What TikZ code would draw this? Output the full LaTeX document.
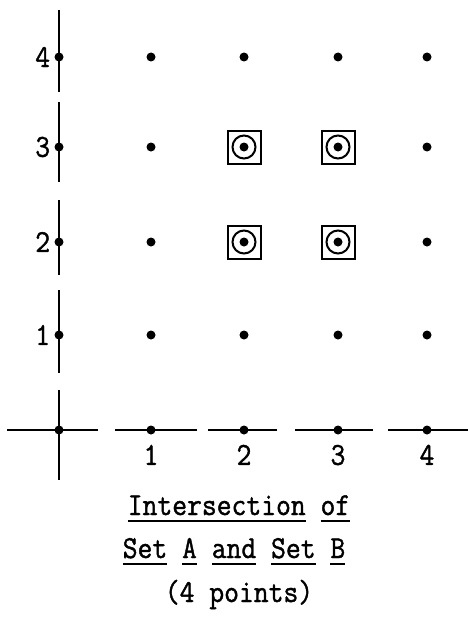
\documentclass[tikz,border=0pt]{standalone}
\usepackage{fontspec}
\usepackage{tikz}
\usetikzlibrary{positioning}
\newfontfamily\typefont[FakeBold=1.2, FakeStretch=0.9]{Latin Modern Mono}
\newcommand\wordline[1]{\setbox0\hbox{#1}\rlap{\rule[-7pt]{\wd0}{2.2pt}}\box0\relax}

\begin{document}
\begin{tikzpicture}[x=1pt, y=-1pt,
    dot/.style={circle, fill=black, inner sep=0pt, minimum size=9pt},
    boxmark/.style={rectangle, draw=black, line width=2pt, minimum size=33pt, inner sep=0pt},
    ringmark/.style={circle, draw=black, line width=2pt, minimum size=23pt, inner sep=0pt},
    axisline/.style={line width=2pt},
    numlabel/.style={font=\fontsize{32}{38}\typefont, inner sep=0pt},
    caption/.style={font=\fontsize{32}{38}\typefont, inner sep=0pt, anchor=base}
]
    \useasboundingbox (0,0) rectangle (468,618);

    % Axes (broken lines)
    \foreach \a/\b in {10/92, 102/182, 200/275, 290/373, 390/480}
        \draw[axisline] (59,\a) -- (59,\b);
    \foreach \a/\b in {7/98, 115/197, 208/277, 295/373, 388/468}
        \draw[axisline] (\a,430) -- (\b,430);

    % Origin and axis points
    \node[dot] (o) at (59,430) {};
    \foreach \c/\xx in {1/151, 2/244, 3/338, 4/427} {
        \node[dot] (x\c) at (\xx,430) {};
        \node[numlabel, below=10pt of x\c] (xl\c) {\c};
    }
    \foreach \r/\yy in {1/335, 2/242, 3/147, 4/57} {
        \node[dot] (y\r) at (59,\yy) {};
        \node[numlabel, left=4pt of y\r] (yl\r) {\r};
    }

    % Grid points
    \foreach \c/\xx in {1/151, 2/244, 3/338, 4/427}
        \foreach \r/\yy in {1/335, 2/242, 3/147, 4/57}
            \node[dot] (p\c\r) at (\xx,\yy) {};

    % Marked points of the intersection
    \foreach \c/\r in {2/2, 2/3, 3/2, 3/3} {
        \node[boxmark] (b\c\r) at (p\c\r) {};
        \node[ringmark] (r\c\r) at (p\c\r) {};
    }

    % Caption
    \node[caption] (cap1) at (239,515) {\wordline{Intersection} \wordline{of}};
    \node[caption] (cap2) at (234,558) {\wordline{Set} \wordline{A} \wordline{and} \wordline{Set} \wordline{B}};
    \node[caption] (cap3) at (239,602) {(4 points)};

\end{tikzpicture}
\end{document}
